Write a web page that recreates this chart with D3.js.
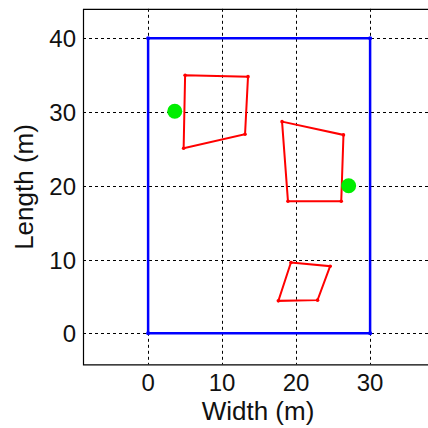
<!DOCTYPE html>
<html>
<head>
<meta charset="utf-8">
<script src="https://cdn.jsdelivr.net/npm/d3@7"></script>
<style>
  body { margin: 0; background: #fff; }
  svg { display: block; font-family: "Liberation Sans", Arial, sans-serif; }
</style>
</head>
<body>
<div id="chart"></div>
<script>
var width = 428,
    height = 428;

// data
var xTicks = [0, 10, 20, 30];
var yTicks = [0, 10, 20, 30, 40];
var room = [[0, 0], [30, 0], [30, 40], [0, 40]];
var obstacleA = [[5, 35], [13.5, 34.8], [13.1, 27], [4.8, 25.1]];
var obstacleB = [[18.1, 28.7], [26.4, 26.9], [26.1, 17.9], [18.9, 17.9]];
var obstacleC = [[19.3, 9.6], [24.6, 9.1], [22.9, 4.5], [17.6, 4.4]];
var obstacles = [obstacleA, obstacleB, obstacleC];
var anchors = [[3.6, 30.1], [27.1, 20.0]];

var x = d3.scaleLinear().domain([-8.8, 38]).range([83, 429.3]);
var y = d3.scaleLinear().domain([-4.2, 44]).range([364.3, 8.8]);

var svg = d3.select("#chart")
    .append("svg")
    .attr("width", width)
    .attr("height", height);

var x0 = x.range()[0], x1 = x.range()[1],
    yb = y.range()[0], yt = y.range()[1];

// grid
var grid = svg.append("g")
    .attr("stroke", "#000")
    .attr("stroke-width", 1)
    .attr("stroke-dasharray", "3,3");
grid.selectAll("line.v")
    .data(xTicks)
    .enter().append("line")
    .attr("class", "v")
    .attr("x1", function(d) { return Math.round(x(d)) + 0.5; })
    .attr("x2", function(d) { return Math.round(x(d)) + 0.5; })
    .attr("y1", yt)
    .attr("y2", yb);
grid.selectAll("line.h")
    .data(yTicks)
    .enter().append("line")
    .attr("class", "h")
    .attr("x1", x0)
    .attr("x2", x1)
    .attr("y1", function(d) { return Math.round(y(d)) + 0.5; })
    .attr("y2", function(d) { return Math.round(y(d)) + 0.5; });

// frame
svg.append("path")
    .attr("d", "M" + x1 + "," + (yt + 0.5) + "H" + (x0 + 0.5) + "V" + (yb + 0.5) + "H" + x1)
    .attr("fill", "none")
    .attr("stroke", "#000")
    .attr("stroke-width", 1.2);

var line = d3.line()
    .x(function(d) { return x(d[0]); })
    .y(function(d) { return y(d[1]); })
    .curve(d3.curveLinearClosed);

// room outline
svg.append("path")
    .datum(room)
    .attr("d", line)
    .attr("fill", "none")
    .attr("stroke", "#0000ff")
    .attr("stroke-width", 2.5);
svg.append("g").selectAll("circle")
    .data(room)
    .enter().append("circle")
    .attr("cx", function(d) { return x(d[0]); })
    .attr("cy", function(d) { return y(d[1]); })
    .attr("r", 2)
    .attr("fill", "#0000ff");

// obstacles
svg.append("g").selectAll("path")
    .data(obstacles)
    .enter().append("path")
    .attr("d", line)
    .attr("fill", "none")
    .attr("stroke", "#ff0000")
    .attr("stroke-width", 2);
svg.append("g").selectAll("circle")
    .data(d3.merge(obstacles))
    .enter().append("circle")
    .attr("cx", function(d) { return x(d[0]); })
    .attr("cy", function(d) { return y(d[1]); })
    .attr("r", 1.8)
    .attr("fill", "#ff0000");

// anchors
svg.append("g").selectAll("circle")
    .data(anchors)
    .enter().append("circle")
    .attr("cx", function(d) { return x(d[0]); })
    .attr("cy", function(d) { return y(d[1]); })
    .attr("r", 7.5)
    .attr("fill", "#00ee00");

// tick labels
svg.append("g").selectAll("text")
    .data(xTicks)
    .enter().append("text")
    .attr("x", function(d) { return x(d); })
    .attr("y", 391)
    .attr("text-anchor", "middle")
    .attr("font-size", 24)
    .attr("fill", "#111")
    .text(function(d) { return d; });
svg.append("g").selectAll("text")
    .data(yTicks)
    .enter().append("text")
    .attr("x", 76)
    .attr("y", function(d) { return y(d) + 9; })
    .attr("text-anchor", "end")
    .attr("font-size", 24)
    .attr("fill", "#111")
    .text(function(d) { return d; });

// axis titles
svg.append("text")
    .attr("x", 258)
    .attr("y", 420)
    .attr("text-anchor", "middle")
    .attr("font-size", 26)
    .attr("fill", "#111")
    .text("Width (m)");
svg.append("text")
    .attr("transform", "translate(33,187) rotate(-90)")
    .attr("text-anchor", "middle")
    .attr("font-size", 26)
    .attr("fill", "#111")
    .text("Length (m)");
</script>
</body>
</html>
